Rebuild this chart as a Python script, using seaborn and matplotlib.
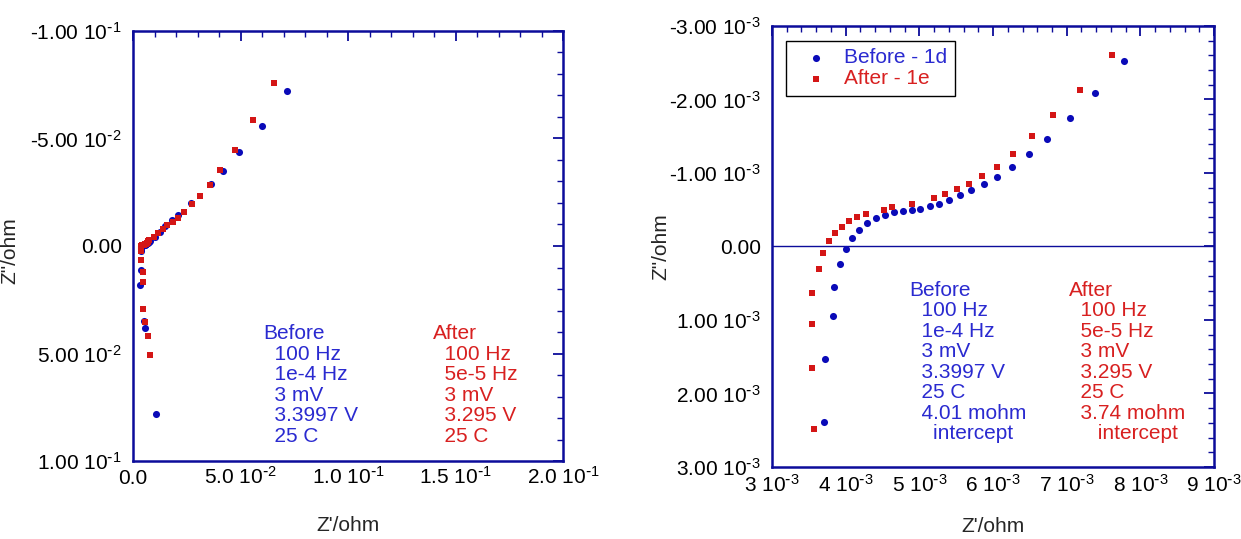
import matplotlib
matplotlib.use("Agg")
import matplotlib.pyplot as plt
import seaborn as sns
import pandas as pd
from matplotlib.ticker import MultipleLocator

# High-frequency region (right panel), values in milliohm
before_zr_hf = [7.784, 7.378, 7.045, 6.734, 6.486, 6.252, 6.054, 5.874, 5.703, 5.545,
                5.396, 5.261, 5.144, 5.009, 4.901, 4.784, 4.653, 4.532, 4.405, 4.293,
                4.180, 4.090, 4.005, 3.923, 3.842, 3.824, 3.725, 3.712]
before_zi_hf = [-2.520, -2.083, -1.746, -1.469, -1.264, -1.087, -0.950, -0.850, -0.764, -0.695,
                -0.631, -0.581, -0.545, -0.509, -0.496, -0.482, -0.464, -0.432, -0.382, -0.314,
                -0.227, -0.114, 0.036, 0.232, 0.545, 0.945, 1.536, 2.382]
after_zr_hf = [7.613, 7.180, 6.810, 6.531, 6.270, 6.054, 5.856, 5.676, 5.509, 5.347,
               5.193, 4.896, 4.635, 4.518, 4.270, 4.158, 4.045, 3.946, 3.860, 3.775,
               3.698, 3.631, 3.541, 3.541, 3.541, 3.563]
after_zi_hf = [-2.608, -2.135, -1.784, -1.497, -1.265, -1.088, -0.956, -0.851, -0.783, -0.719,
               -0.664, -0.577, -0.532, -0.500, -0.436, -0.405, -0.350, -0.268, -0.180, -0.068,
               0.091, 0.300, 0.636, 1.050, 1.650, 2.480]

# Low-frequency tail (left panel only), ohm
before_zr_lf = [0.0100, 0.0125, 0.0150, 0.0180, 0.0208, 0.0268, 0.0361, 0.0417, 0.0494, 0.0602, 0.0716]
before_zi_lf = [-0.0040, -0.0065, -0.0092, -0.0121, -0.0144, -0.0199, -0.0288, -0.0347, -0.0436, -0.0560, -0.0721]
after_zr_lf = [0.0098, 0.0118, 0.0138, 0.0157, 0.0185, 0.0211, 0.0239, 0.0273, 0.0312, 0.0358,
               0.0406, 0.0474, 0.0557, 0.0657]
after_zi_lf = [-0.0040, -0.0059, -0.0078, -0.0096, -0.0110, -0.0132, -0.0158, -0.0194, -0.0233, -0.0282,
               -0.0353, -0.0448, -0.0588, -0.0760]

# Inductive tail (left panel only), ohm
before_zr_ind = [0.0037, 0.0033, 0.0050, 0.0057, 0.0106]
before_zi_ind = [0.0112, 0.0180, 0.0349, 0.0380, 0.0780]
after_zr_ind = [0.0037, 0.0045, 0.0048, 0.0048, 0.0056, 0.0068, 0.0079]
after_zi_ind = [0.0065, 0.0120, 0.0166, 0.0295, 0.0352, 0.0419, 0.0507]

# superscript with a plain hyphen, like the original labels
def sci(mant, exp):
    return mant + r" 10$^{\text{-}" + str(exp) + "}$"

left_xticks = [0.0, 0.05, 0.10, 0.15, 0.20]
left_xlabels = ["0.0", sci("5.0", 2), sci("1.0", 1), sci("1.5", 1), sci("2.0", 1)]
left_yticks = [-0.10, -0.05, 0.0, 0.05, 0.10]
left_ylabels = [sci("-1.00", 1), sci("-5.00", 2), "0.00", sci("5.00", 2), sci("1.00", 1)]
right_xticks = [3e-3, 4e-3, 5e-3, 6e-3, 7e-3, 8e-3, 9e-3]
right_xlabels = [sci(str(k), 3) for k in range(3, 10)]
right_yticks = [-3e-3, -2e-3, -1e-3, 0.0, 1e-3, 2e-3, 3e-3]
right_ylabels = [sci("-3.00", 3), sci("-2.00", 3), sci("-1.00", 3), "0.00",
                 sci("1.00", 3), sci("2.00", 3), sci("3.00", 3)]

before_text = "Before\n  100 Hz\n  1e-4 Hz\n  3 mV\n  3.3997 V\n  25 C"
after_text = "After\n  100 Hz\n  5e-5 Hz\n  3 mV\n  3.295 V\n  25 C"
before_text_r = before_text + "\n  4.01 mohm\n    intercept"
after_text_r = after_text + "\n  3.74 mohm\n     intercept"

BLUE = "#0a0ab8"
RED = "#d41616"
BLUE_T = "#2a2ad0"
RED_T = "#d82020"
NAVY = "#0c0c9a"

sns.set_style("white")
plt.rcParams["font.family"] = ["Liberation Sans", "DejaVu Sans"]
plt.rcParams["mathtext.default"] = "regular"
plt.rcParams["font.size"] = 15

hf_before = pd.DataFrame({"Zr": [v * 1e-3 for v in before_zr_hf], "Zi": [v * 1e-3 for v in before_zi_hf]})
hf_after = pd.DataFrame({"Zr": [v * 1e-3 for v in after_zr_hf], "Zi": [v * 1e-3 for v in after_zi_hf]})
full_before = pd.concat([hf_before,
                         pd.DataFrame({"Zr": before_zr_lf, "Zi": before_zi_lf}),
                         pd.DataFrame({"Zr": before_zr_ind, "Zi": before_zi_ind})], ignore_index=True)
full_after = pd.concat([hf_after,
                        pd.DataFrame({"Zr": after_zr_lf, "Zi": after_zi_lf}),
                        pd.DataFrame({"Zr": after_zr_ind, "Zi": after_zi_ind})], ignore_index=True)

fig = plt.figure(figsize=(12.41, 5.39), dpi=100)
ax1 = fig.add_axes([0.1072, 0.1447, 0.3465, 0.7978])
ax2 = fig.add_axes([0.6221, 0.1336, 0.3562, 0.8182])

sns.scatterplot(data=full_before, x="Zr", y="Zi", ax=ax1, color=BLUE, marker="o", s=26, linewidth=0, zorder=3)
sns.scatterplot(data=full_after, x="Zr", y="Zi", ax=ax1, color=RED, marker="s", s=24, linewidth=0, zorder=4)

ax2.axhline(0, color=NAVY, linewidth=1.0, zorder=1)
sns.scatterplot(data=hf_before, x="Zr", y="Zi", ax=ax2, color=BLUE, marker="o", s=26, linewidth=0,
                zorder=3, label="Before - 1d")
sns.scatterplot(data=hf_after, x="Zr", y="Zi", ax=ax2, color=RED, marker="s", s=24, linewidth=0,
                zorder=4, label="After - 1e")

ax1.set_xlim(0, 0.2)
ax1.set_ylim(0.1, -0.1)
ax1.set_xticks(left_xticks)
ax1.set_xticklabels(left_xlabels, va="baseline")
ax1.set_yticks(left_yticks)
ax1.set_yticklabels(left_ylabels, va="center_baseline")
ax1.xaxis.set_minor_locator(MultipleLocator(0.01))
ax1.yaxis.set_minor_locator(MultipleLocator(0.01))

ax2.set_xlim(3e-3, 9e-3)
ax2.set_ylim(3e-3, -3e-3)
ax2.set_xticks(right_xticks)
ax2.set_xticklabels(right_xlabels, va="baseline")
ax2.set_yticks(right_yticks)
ax2.set_yticklabels(right_ylabels, va="center_baseline")
ax2.xaxis.set_minor_locator(MultipleLocator(2e-4))
ax2.yaxis.set_minor_locator(MultipleLocator(2e-4))

for ax, xpad in [(ax1, 16.5), (ax2, 18)]:
    for sp in ax.spines.values():
        sp.set_color(NAVY)
        sp.set_linewidth(1.8)
    ax.tick_params(which="both", direction="in", top=True, right=True, color=NAVY, labelcolor="black",
                   labelsize=15)
    ax.tick_params(which="major", length=7, width=1.3)
    ax.tick_params(which="minor", length=4, width=1.0)
    ax.tick_params(axis="x", which="both", pad=xpad)
    ax.tick_params(axis="y", which="both", pad=8)
    ax.set_xlabel("Z'/ohm", fontsize=15)
    ax.set_ylabel('Z"/ohm', fontsize=15)
    ax.xaxis.label.set_va("center")

ax1.xaxis.set_label_coords(0.5, -0.149)
ax1.yaxis.set_label_coords(-0.265, 0.49)
ax2.xaxis.set_label_coords(0.5, -0.136)
ax2.yaxis.set_label_coords(-0.23, 0.5)

ax1.text(0.302, 0.318, before_text, transform=ax1.transAxes, ha="left", va="top",
         color=BLUE_T, fontsize=15, linespacing=1.1)
ax1.text(0.698, 0.318, after_text, transform=ax1.transAxes, ha="left", va="top",
         color=RED_T, fontsize=15, linespacing=1.1)
ax2.text(0.311, 0.422, before_text_r, transform=ax2.transAxes, ha="left", va="top",
         color=BLUE_T, fontsize=15, linespacing=1.1)
ax2.text(0.671, 0.422, after_text_r, transform=ax2.transAxes, ha="left", va="top",
         color=RED_T, fontsize=15, linespacing=1.1)

leg = ax2.legend(loc="upper left", bbox_to_anchor=(0.0315, 0.966), frameon=True, fancybox=False,
                 edgecolor="black", framealpha=1, fontsize=15, handlelength=2.2, handletextpad=0.25,
                 borderpad=0.35, labelspacing=0.1, borderaxespad=0)
leg.get_frame().set_linewidth(1.0)
for t, c in zip(leg.get_texts(), [BLUE_T, RED_T]):
    t.set_color(c)

fig.savefig("out.png", dpi=100)
